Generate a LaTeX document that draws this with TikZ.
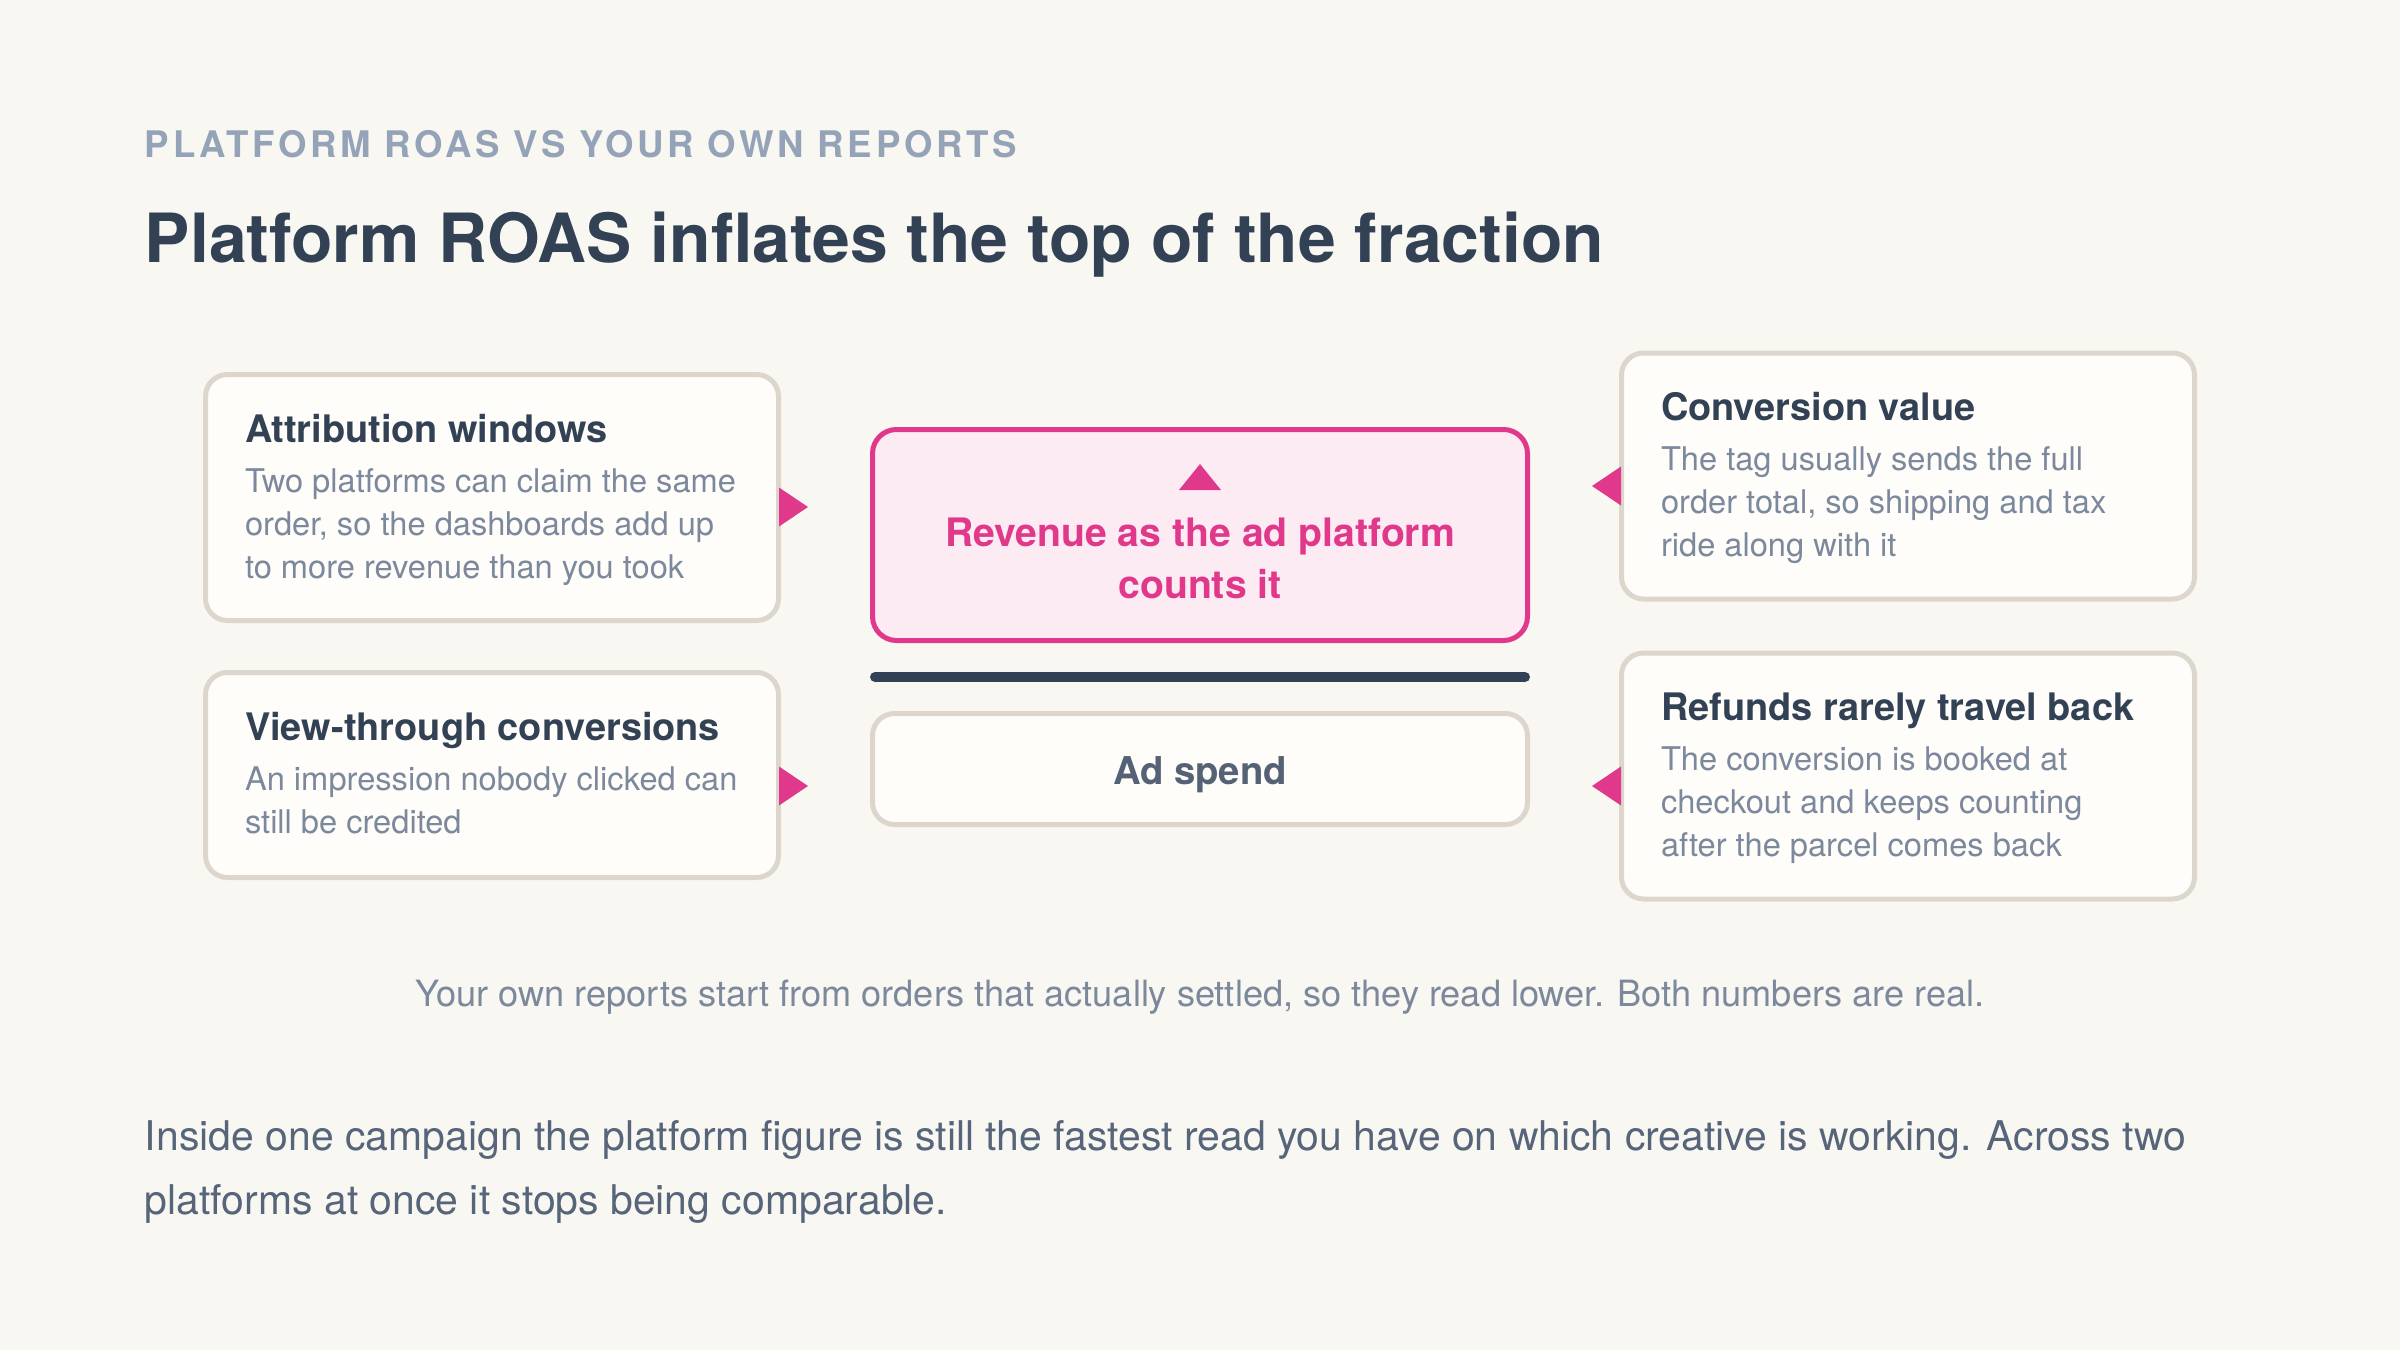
\documentclass[tikz,border=0pt]{standalone}
\usepackage{fontspec}
\setmainfont{TeX Gyre Heros}
\usetikzlibrary{calc}
\definecolor{bg}{HTML}{F9F7F2}
\definecolor{cardfill}{HTML}{FEFDFA}
\definecolor{cardline}{HTML}{DCD6CC}
\definecolor{ink}{HTML}{334155}
\definecolor{eyebrow}{HTML}{94A3B8}
\definecolor{bodygrey}{HTML}{7C889C}
\definecolor{paragrey}{HTML}{56657A}
\definecolor{adgrey}{HTML}{556275}
\definecolor{pk}{HTML}{E0398B}
\definecolor{pkfill}{HTML}{FCEBF3}
\newlength\fitlen
\newsavebox\fitbox
\newcommand\fitfont[3]{%
  \sbox\fitbox{\fontsize{10pt}{12pt}\selectfont #3}%
  \fitlen=\wd\fitbox
  \pgfmathsetmacro#1{3*#2/\fitlen}}
\tikzset{
  card/.style={draw=cardline, fill=cardfill, line width=1.5pt, rounded corners=6.6pt,
    minimum width=171.9pt, inner sep=0pt},
  txt/.style={inner sep=0pt, outer sep=0pt, anchor=base west},
  eyetxt/.style={txt, text=eyebrow, font=\fontsize{\fsEye pt}{\fsEye pt}\selectfont\bfseries\addfontfeature{LetterSpace=10}},
  titletxt/.style={txt, text=ink, font=\fontsize{\fsTitle pt}{\fsTitle pt}\selectfont\bfseries},
  headtxt/.style={txt, text=ink, font=\fontsize{\fsHead pt}{\fsHead pt}\selectfont\bfseries},
  bodytxt/.style={txt, text=bodygrey, font=\fontsize{\fsBody pt}{\fsBody pt}\selectfont},
  revtxt/.style={txt, anchor=base, text=pk, font=\fontsize{\fsRev pt}{\fsRev pt}\selectfont\bfseries},
  adtxt/.style={txt, anchor=base, text=adgrey, font=\fontsize{\fsAd pt}{\fsAd pt}\selectfont\bfseries},
  captxt/.style={txt, anchor=base, text=bodygrey, font=\fontsize{\fsCap pt}{\fsCap pt}\selectfont},
  paratxt/.style={txt, text=paragrey, font=\fontsize{\fsPara pt}{\fsPara pt}\selectfont},
}
\begin{document}
\fitfont\fsEye{872}{\bfseries\addfontfeature{LetterSpace=10}PLATFORM ROAS VS YOUR OWN REPORTS}%
\fitfont\fsTitle{1459}{\bfseries Platform ROAS inflates the top of the fraction}%
\fitfont\fsHead{475}{\bfseries View-through conversions}%
\fitfont\fsBody{491}{Two platforms can claim the same}%
\fitfont\fsRev{510}{\bfseries Revenue as the ad platform}%
\fitfont\fsAd{174}{\bfseries Ad spend}%
\fitfont\fsCap{1569}{Your own reports start from orders that actually settled, so they read lower. Both numbers are real.}%
\fitfont\fsPara{2041}{Inside one campaign the platform figure is still the fastest read you have on which creative is working. Across two}%
\begin{tikzpicture}[x=0.3pt,y=-0.3pt]
\fill[bg] (0,0) rectangle (2400,1350);
\useasboundingbox (0,0) rectangle (2400,1350);

% header
\node[eyetxt] (eye) at (145,158) {PLATFORM ROAS VS YOUR OWN REPORTS};
\node[titletxt] (title) at (145,263) {Platform ROAS inflates the top of the fraction};

% cards
\node[card, minimum height=73.8pt] (b1) at (492,497.5) {};
\node[card, minimum height=61.5pt] (b2) at (492,775) {};
\node[card, minimum height=73.8pt] (b3) at (1908,476) {};
\node[card, minimum height=73.8pt] (b4) at (1908,776) {};

% centre fraction
\node[draw=pk, fill=pkfill, line width=1.5pt, rounded corners=7.2pt,
      minimum width=196.5pt, minimum height=63.3pt, inner sep=0pt] (rev) at (1200,535) {};
\node[card, minimum width=196.5pt, minimum height=33.3pt] (ad) at (1200,769) {};
\draw[ink, line width=3pt, line cap=round]
  ($(rev.south west)+(5,34)$) -- ($(rev.south east)+(-5,34)$);
\fill[pk] ($(rev.north)+(0,37)$) -- ++(21,26) -- ++(-42,0) -- cycle;
\node[revtxt] (revl1) at (1200,546) {Revenue as the ad platform};
\node[revtxt] (revl2) at (1200,598) {counts it};
\node[adtxt] (adl) at (1200,784) {Ad spend};

% pointers
\fill[pk] ($(b1.east)+(-2,-10)$) -- ++(29,19.5) -- ++(-29,19.5) -- cycle;
\fill[pk] ($(b2.east)+(-2,-8.5)$) -- ++(29,19.5) -- ++(-29,19.5) -- cycle;
\fill[pk] ($(b3.west)+(2,-9.5)$) -- ++(-29,19.5) -- ++(29,19.5) -- cycle;
\fill[pk] ($(b4.west)+(2,-9.5)$) -- ++(-29,19.5) -- ++(29,19.5) -- cycle;

% card texts
\node[headtxt] (b1t) at (245,442) {Attribution windows};
\node[bodytxt] (b1a) at (245,492) {Two platforms can claim the same};
\node[bodytxt] (b1b) at (245,535) {order, so the dashboards add up};
\node[bodytxt] (b1c) at (245,578) {to more revenue than you took};

\node[headtxt] (b2t) at (245,740) {View-through conversions};
\node[bodytxt] (b2a) at (245,790) {An impression nobody clicked can};
\node[bodytxt] (b2b) at (245,833) {still be credited};

\node[headtxt] (b3t) at (1661,420.5) {Conversion value};
\node[bodytxt] (b3a) at (1661,470.5) {The tag usually sends the full};
\node[bodytxt] (b3b) at (1661,513.5) {order total, so shipping and tax};
\node[bodytxt] (b3c) at (1661,556.5) {ride along with it};

\node[headtxt] (b4t) at (1661,720.5) {Refunds rarely travel back};
\node[bodytxt] (b4a) at (1661,770.5) {The conversion is booked at};
\node[bodytxt] (b4b) at (1661,813.5) {checkout and keeps counting};
\node[bodytxt] (b4c) at (1661,856.5) {after the parcel comes back};

% caption and paragraph
\node[captxt] (cap) at (1200,1006) {Your own reports start from orders that actually settled, so they read lower. Both numbers are real.};
\node[paratxt] (p1) at (145,1150) {Inside one campaign the platform figure is still the fastest read you have on which creative is working. Across two};
\node[paratxt] (p2) at (145,1214) {platforms at once it stops being comparable.};
\end{tikzpicture}
\end{document}
